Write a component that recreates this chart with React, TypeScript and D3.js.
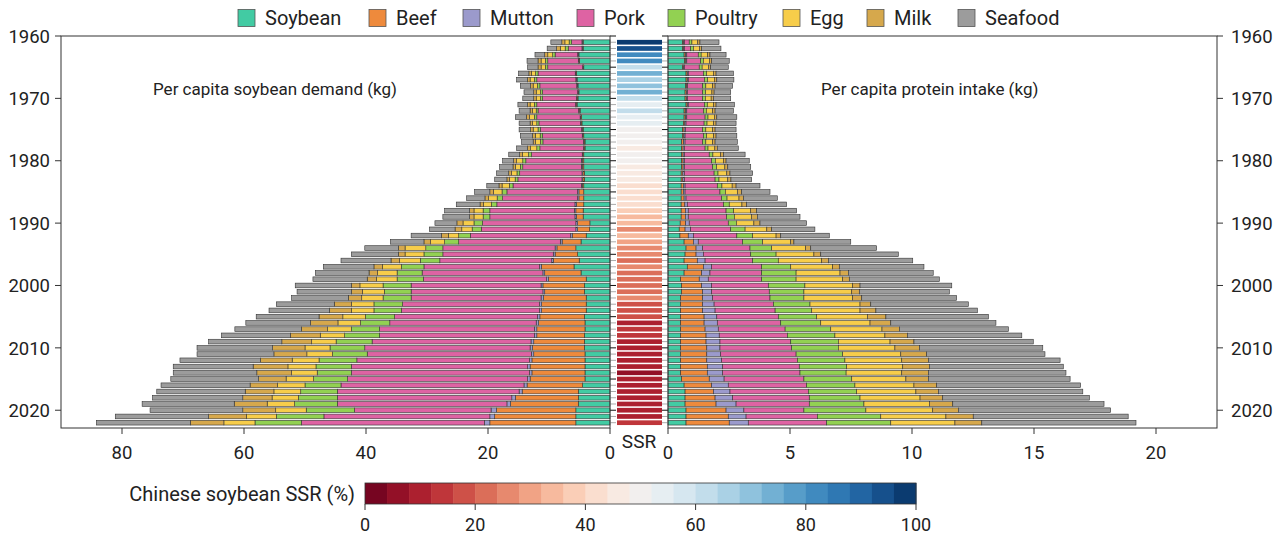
import * as d3 from "d3";

const YEARS = d3.range(1961, 2023);
const CATEGORIES = ["Soybean", "Beef", "Mutton", "Pork", "Poultry", "Egg", "Milk", "Seafood"];
const COLORS = ["#42cba3", "#ee8a3c", "#9b9acc", "#de63a3", "#92d152", "#f7cd4a", "#d6a84c", "#9c9c9c"];

// per capita soybean demand (kg), 1961-2022
const DEMAND_SOYBEAN = [4.4, 4.4, 5.1, 5.0, 4.3, 5.5, 5.4, 5.25, 5.1, 5.25, 5.4, 4.9, 4.65, 4.6, 4.4, 4.3, 4.1, 4.1, 4.3, 4.3, 4.3, 4.2, 4.2, 4.3, 4.3, 4.3, 4.3, 4.4, 4.4, 3.3,
  3.35, 3.9, 4.75, 5.6, 5.3, 5.05, 5.9, 4.75, 3.9, 4.2, 4.2, 3.9, 3.9, 3.9, 4.2, 4.1, 4.1, 4.2, 4.2, 4.2, 4.1, 4.1, 4.1, 4.1, 4.1, 4.5, 5.2, 5.2, 5.2, 5.6, 5.6, 5.6];
const DEMAND_BEEF = [0.1, 0.1, 0.1, 0.1, 0.1, 0.1, 0.1, 0.1, 0.1, 0.15, 0.15, 0.15, 0.15, 0.15, 0.15, 0.15, 0.15, 0.15, 0.15, 0.25, 0.25, 0.25, 0.25, 0.25, 0.8, 0.8, 1.2, 1.2, 1.1, 2.0,
  1.95, 2.3, 3.1, 3.1, 3.7, 4.25, 5.35, 5.95, 6.2, 6.8, 6.5, 7.0, 7.3, 7.3, 7.3, 7.6, 7.9, 7.8, 8.3, 8.5, 8.4, 8.7, 9.0, 8.7, 9.0, 9.1, 9.2, 10.3, 11.1, 13.0, 13.3, 14.1];
const DEMAND_MUTTON = [0.1, 0.1, 0.1, 0.1, 0.1, 0.1, 0.1, 0.1, 0.1, 0.1, 0.1, 0.1, 0.1, 0.1, 0.1, 0.1, 0.1, 0.1, 0.1, 0.15, 0.15, 0.15, 0.15, 0.15, 0.2, 0.2, 0.25, 0.25, 0.25, 0.3,
  0.3, 0.25, 0.3, 0.3, 0.3, 0.25, 0.3, 0.3, 0.3, 0.3, 0.3, 0.4, 0.35, 0.35, 0.4, 0.4, 0.4, 0.4, 0.45, 0.4, 0.4, 0.4, 0.4, 0.4, 0.4, 0.5, 0.5, 0.6, 0.6, 0.9, 0.8, 0.9];
const DEMAND_PORK = [1.7, 2.25, 3.7, 5.0, 5.7, 6.1, 6.4, 6.05, 5.75, 5.55, 6.35, 6.65, 7.1, 6.8, 6.75, 6.5, 6.65, 7.15, 8.3, 9.1, 9.6, 10.2, 10.5, 11.2, 11.6, 12.3, 12.8, 13.85, 13.95, 15.3,
  15.5, 16.45, 16.65, 18.4, 18.1, 18.35, 18.95, 19.8, 20.2, 21.3, 21.6, 21.3, 22.45, 22.65, 23.4, 24.0, 25.4, 25.4, 26.05, 27.1, 26.9, 28.3, 28.9, 29.2, 29.5, 30.0, 29.8, 28.6, 27.8, 22.4, 27.2, 30.0];
const DEMAND_POULTRY = [0.4, 0.5, 0.4, 0.4, 0.4, 0.4, 0.4, 0.4, 0.35, 0.35, 0.4, 0.3, 0.4, 0.35, 0.4, 0.4, 0.4, 0.5, 0.5, 0.5, 0.4, 0.45, 0.45, 0.6, 0.8, 0.9, 0.9, 1.1, 1.1, 1.4,
  1.5, 1.9, 2.3, 2.8, 3.1, 3.2, 3.7, 4.1, 4.3, 4.6, 4.4, 4.6, 4.7, 4.5, 4.8, 4.8, 4.6, 5.7, 5.9, 5.7, 5.7, 6.2, 5.8, 5.6, 5.6, 5.9, 6.0, 6.4, 7.0, 7.9, 7.8, 7.6];
const DEMAND_EGG = [0.7, 0.8, 0.8, 0.7, 0.7, 0.7, 0.7, 0.7, 0.7, 0.7, 0.7, 0.6, 0.8, 0.7, 0.8, 0.8, 0.8, 1.0, 1.0, 1.0, 0.8, 0.9, 0.9, 1.2, 1.4, 1.4, 1.3, 1.5, 1.5, 1.8,
  1.7, 1.7, 2.3, 3.4, 3.1, 3.4, 3.1, 3.2, 3.4, 3.8, 3.6, 3.5, 3.7, 3.7, 3.7, 3.7, 3.9, 4.0, 4.0, 4.1, 4.2, 4.4, 4.6, 4.2, 4.5, 4.5, 4.4, 4.3, 4.5, 5.0, 4.9, 5.1];
const DEMAND_MILK = [0.5, 0.6, 0.5, 0.5, 0.5, 0.4, 0.4, 0.4, 0.4, 0.4, 0.4, 0.4, 0.5, 0.4, 0.4, 0.45, 0.4, 0.5, 0.45, 0.5, 0.4, 0.45, 0.45, 0.5, 0.6, 0.6, 0.55, 0.7, 0.7, 1.0,
  1.1, 1.15, 1.1, 1.1, 1.1, 1.4, 1.4, 1.4, 1.5, 1.4, 1.8, 2.2, 2.8, 3.6, 3.9, 4.5, 4.3, 4.9, 4.9, 5.3, 5.4, 5.2, 5.7, 5.7, 4.5, 4.5, 4.7, 4.8, 5.4, 5.4, 6.2, 5.5];
const DEMAND_SEAFOOD = [1.8, 1.55, 1.6, 1.8, 1.7, 1.7, 1.8, 1.7, 1.6, 1.8, 1.6, 1.8, 1.8, 1.8, 1.9, 2.0, 1.9, 1.8, 1.8, 1.8, 2.2, 2.0, 2.0, 2.0, 2.5, 3.0, 3.9, 4.1, 4.4, 3.6,
  4.2, 4.95, 5.5, 5.5, 7.7, 8.2, 8.3, 8.8, 8.9, 9.2, 8.9, 9.3, 9.5, 9.9, 10.3, 10.6, 10.9, 11.3, 12.0, 12.4, 12.6, 13.2, 13.1, 13.7, 14.4, 14.6, 14.5, 14.8, 15.1, 15.2, 15.3, 15.4];

// per capita protein intake (kg), 1961-2022
const INTAKE_SOYBEAN = [0.6, 0.6, 0.66, 0.68, 0.6, 0.74, 0.74, 0.72, 0.7, 0.7, 0.74, 0.66, 0.66, 0.63, 0.6, 0.59, 0.56, 0.56, 0.56, 0.56, 0.56, 0.54, 0.54, 0.54, 0.54, 0.54, 0.54, 0.54, 0.54, 0.5,
  0.46, 0.49, 0.66, 0.74, 0.7, 0.66, 0.79, 0.66, 0.52, 0.56, 0.56, 0.52, 0.52, 0.52, 0.52, 0.52, 0.52, 0.52, 0.52, 0.52, 0.52, 0.52, 0.52, 0.52, 0.56, 0.66, 0.7, 0.7, 0.7, 0.74, 0.74, 0.74];
const INTAKE_BEEF = [0.04, 0.04, 0.06, 0.05, 0.04, 0.05, 0.05, 0.05, 0.06, 0.06, 0.05, 0.06, 0.06, 0.06, 0.06, 0.06, 0.08, 0.06, 0.06, 0.06, 0.06, 0.07, 0.07, 0.09, 0.09, 0.12, 0.15, 0.17, 0.17, 0.22,
  0.24, 0.34, 0.38, 0.41, 0.45, 0.54, 0.66, 0.72, 0.76, 0.82, 0.86, 0.9, 0.9, 0.9, 0.96, 0.96, 1.0, 1.04, 1.04, 1.07, 1.07, 1.07, 1.09, 1.09, 1.13, 1.13, 1.16, 1.23, 1.27, 1.64, 1.73, 1.77];
const INTAKE_MUTTON = [0.03, 0.03, 0.05, 0.04, 0.03, 0.04, 0.04, 0.03, 0.04, 0.04, 0.04, 0.05, 0.05, 0.05, 0.05, 0.05, 0.06, 0.05, 0.05, 0.05, 0.05, 0.06, 0.06, 0.07, 0.07, 0.08, 0.1, 0.12, 0.12, 0.15,
  0.23, 0.21, 0.2, 0.27, 0.3, 0.32, 0.34, 0.34, 0.37, 0.41, 0.37, 0.41, 0.47, 0.51, 0.52, 0.54, 0.54, 0.54, 0.57, 0.54, 0.57, 0.61, 0.63, 0.63, 0.61, 0.68, 0.68, 0.72, 0.82, 0.73, 0.73, 0.78];
const INTAKE_PORK = [0.2, 0.26, 0.47, 0.57, 0.61, 0.62, 0.66, 0.62, 0.62, 0.62, 0.66, 0.68, 0.75, 0.74, 0.71, 0.75, 0.72, 0.85, 1.02, 1.12, 1.16, 1.22, 1.26, 1.32, 1.43, 1.46, 1.48, 1.55, 1.57, 1.6,
  1.64, 1.78, 1.82, 1.94, 1.94, 1.95, 2.05, 2.12, 2.19, 2.32, 2.36, 2.35, 2.43, 2.46, 2.52, 2.6, 2.74, 2.79, 2.9, 2.94, 3.09, 3.1, 3.14, 3.17, 3.27, 3.21, 3.21, 3.14, 3.0, 2.46, 2.92, 3.21];
const INTAKE_POULTRY = [0.11, 0.11, 0.12, 0.11, 0.12, 0.13, 0.13, 0.13, 0.12, 0.11, 0.12, 0.12, 0.12, 0.12, 0.13, 0.13, 0.13, 0.12, 0.15, 0.15, 0.16, 0.16, 0.16, 0.19, 0.22, 0.22, 0.24, 0.31, 0.32, 0.33,
  0.59, 0.65, 0.82, 0.89, 1.04, 1.05, 1.19, 1.41, 1.41, 1.5, 1.42, 1.39, 1.5, 1.5, 1.57, 1.64, 1.87, 1.95, 1.95, 1.91, 1.91, 1.95, 1.94, 1.89, 1.96, 1.98, 1.98, 2.08, 2.24, 2.54, 2.6, 2.63];
const INTAKE_EGG = [0.24, 0.25, 0.26, 0.25, 0.26, 0.28, 0.28, 0.28, 0.26, 0.24, 0.26, 0.26, 0.26, 0.27, 0.28, 0.29, 0.28, 0.28, 0.32, 0.33, 0.34, 0.36, 0.36, 0.42, 0.49, 0.49, 0.52, 0.69, 0.7, 0.72,
  0.89, 0.96, 1.15, 1.39, 1.55, 1.78, 1.72, 1.8, 1.91, 1.96, 1.96, 2.0, 2.05, 1.98, 2.08, 2.02, 2.1, 2.05, 2.12, 2.32, 2.38, 2.33, 2.3, 2.28, 2.22, 2.42, 2.43, 2.46, 2.68, 2.74, 2.67, 2.63];
const INTAKE_MILK = [0.09, 0.09, 0.1, 0.09, 0.09, 0.11, 0.1, 0.1, 0.09, 0.09, 0.1, 0.1, 0.1, 0.1, 0.1, 0.1, 0.1, 0.1, 0.11, 0.11, 0.12, 0.13, 0.13, 0.16, 0.18, 0.18, 0.19, 0.25, 0.24, 0.25,
  0.2, 0.19, 0.13, 0.21, 0.28, 0.27, 0.27, 0.34, 0.27, 0.3, 0.31, 0.37, 0.44, 0.65, 0.76, 0.85, 0.71, 0.92, 0.98, 1.0, 1.06, 1.09, 1.09, 1.09, 0.92, 0.93, 0.92, 0.93, 0.96, 1.05, 1.12, 1.1];
const INTAKE_SEAFOOD = [0.78, 0.79, 0.66, 0.72, 0.72, 0.71, 0.7, 0.72, 0.68, 0.71, 0.75, 0.75, 0.82, 0.82, 0.86, 0.85, 0.91, 0.86, 0.89, 0.95, 0.94, 0.93, 0.85, 0.98, 1.16, 1.39, 1.64, 1.64, 1.75, 1.91,
  1.77, 1.99, 2.33, 2.7, 3.18, 3.46, 3.47, 3.48, 3.69, 3.76, 3.69, 3.89, 4.0, 4.16, 4.2, 4.31, 4.47, 4.69, 4.89, 5.06, 4.85, 5.4, 5.49, 5.64, 5.81, 5.9, 5.92, 6.01, 6.2, 6.24, 6.35, 6.32];

// Chinese soybean self-sufficiency ratio (%), 1961-2022
const SSR = [98, 92, 80, 82, 62, 72, 66, 68, 72, 60, 54, 60, 55, 52, 50, 48, 51, 47, 49, 48,
  44, 44, 45, 43, 42, 42, 40, 38, 34, 35,
  27, 32, 30, 25, 27, 23, 25, 23, 21, 23,
  21, 25, 19, 19, 17, 10, 12, 14, 10, 10,
  11, 9, 9, 7, 10, 8, 10, 11, 9, 8,
  10, 12];

const YEAR_TICKS = [1960, 1970, 1980, 1990, 2000, 2010, 2020];
const DEMAND_TICKS = [0, 20, 40, 60, 80];
const INTAKE_TICKS = [0, 5, 10, 15, 20];
const SSR_TICKS = [0, 20, 40, 60, 80, 100];

const DEMAND = [DEMAND_SOYBEAN, DEMAND_BEEF, DEMAND_MUTTON, DEMAND_PORK, DEMAND_POULTRY, DEMAND_EGG, DEMAND_MILK, DEMAND_SEAFOOD];
const INTAKE = [INTAKE_SOYBEAN, INTAKE_BEEF, INTAKE_MUTTON, INTAKE_PORK, INTAKE_POULTRY, INTAKE_EGG, INTAKE_MILK, INTAKE_SEAFOOD];

const toRows = (series: number[][]) =>
  YEARS.map((year, i) => {
    const row: Record<string, number> = { year };
    CATEGORIES.forEach((c, k) => (row[c] = series[k][i]));
    return row;
  });

const FONT = "Roboto, 'Open Sans', Arial, sans-serif";
const INK = "#222";

export default function App() {
  const W = 1280;
  const H = 545;
  const top = 36;
  const bottom = 428;
  const leftX0 = 61, leftX1 = 610;
  const rightX0 = 668, rightX1 = 1217;

  const y = d3.scaleLinear().domain([1960, 2022.85]).range([top, bottom]);
  const xL = d3.scaleLinear().domain([0, 90]).range([leftX1, leftX0]);
  const xR = d3.scaleLinear().domain([0, 22.5]).range([rightX0, rightX1]);
  const barH = 4.7;

  const stack = d3.stack<Record<string, number>>().keys(CATEGORIES);
  const demandStack = stack(toRows(DEMAND));
  const intakeStack = stack(toRows(INTAKE));

  const nBins = 25;
  const binColor = (i: number) => d3.interpolateRdBu((i + 0.5) / nBins);
  const ssrColor = (v: number) => binColor(Math.min(nBins - 1, Math.floor(v / (100 / nBins))));

  const cb = d3.scaleLinear().domain([0, 100]).range([365, 916]);
  const cbTop = 483, cbBot = 504;

  const legendX = [238, 369, 463, 577, 668, 783, 867, 958];
  const minorYears = d3.range(1960, 2023);

  return (
    <svg width={W} height={H} style={{ position: "absolute", left: 0, top: 0, background: "#fff" }} fontFamily={FONT}>
      {/* legend */}
      {CATEGORIES.map((c, i) => (
        <g key={c} transform={`translate(${legendX[i]},18)`}>
          <rect x={0} y={-8.5} width={17} height={17} fill={COLORS[i]} stroke="#555" strokeWidth={0.8} />
          <text x={27} y={0} dy="0.36em" fontSize={20} fill={INK}>{c}</text>
        </g>
      ))}

      {/* left stacked bars */}
      {demandStack.map((s, k) => (
        <g key={s.key} fill={COLORS[k]} stroke="#333" strokeWidth={0.6}>
          {s.map((d, i) => (
            <rect key={i} x={xL(d[1])} y={y(YEARS[i]) - barH / 2} width={Math.max(0, xL(d[0]) - xL(d[1]))} height={barH} />
          ))}
        </g>
      ))}

      {/* right stacked bars */}
      {intakeStack.map((s, k) => (
        <g key={s.key} fill={COLORS[k]} stroke="#333" strokeWidth={0.6}>
          {s.map((d, i) => (
            <rect key={i} x={xR(d[0])} y={y(YEARS[i]) - barH / 2} width={Math.max(0, xR(d[1]) - xR(d[0]))} height={barH} />
          ))}
        </g>
      ))}

      {/* SSR column */}
      {SSR.map((v, i) => (
        <rect key={i} x={617} y={y(YEARS[i]) - barH / 2} width={45} height={barH} fill={ssrColor(v)} />
      ))}

      {/* inner ticks beside SSR column */}
      {minorYears.map((yr) => {
        const major = yr % 5 === 0;
        const c = major ? "#111" : "#aaa";
        return (
          <g key={yr} stroke={c} strokeWidth={1}>
            <line x1={leftX1} x2={leftX1 + 6} y1={y(yr)} y2={y(yr)} />
            <line x1={rightX0} x2={rightX0 - 6} y1={y(yr)} y2={y(yr)} />
          </g>
        );
      })}

      {/* frames */}
      <rect x={leftX0} y={top} width={leftX1 - leftX0} height={bottom - top} fill="none" stroke="#333" strokeWidth={1} />
      <rect x={rightX0} y={top} width={rightX1 - rightX0} height={bottom - top} fill="none" stroke="#333" strokeWidth={1} />

      {/* year axes */}
      {YEAR_TICKS.map((yr) => (
        <g key={yr}>
          <line x1={leftX0 - 6} x2={leftX0} y1={y(yr)} y2={y(yr)} stroke="#333" />
          <text x={leftX0 - 11} y={y(yr)} dy="0.36em" textAnchor="end" fontSize={18.5} fill={INK}>{yr}</text>
          <line x1={rightX1} x2={rightX1 + 6} y1={y(yr)} y2={y(yr)} stroke="#333" />
          <text x={rightX1 + 14} y={y(yr)} dy="0.36em" textAnchor="start" fontSize={18.5} fill={INK}>{yr}</text>
        </g>
      ))}

      {/* value axes */}
      {DEMAND_TICKS.map((t) => (
        <g key={"d" + t}>
          <line x1={xL(t)} x2={xL(t)} y1={bottom} y2={bottom + 6} stroke="#333" />
          <text x={xL(t)} y={452} dy="0.36em" textAnchor="middle" fontSize={18.5} fill={INK}>{t}</text>
        </g>
      ))}
      {INTAKE_TICKS.map((t) => (
        <g key={"i" + t}>
          <line x1={xR(t)} x2={xR(t)} y1={bottom} y2={bottom + 6} stroke="#333" />
          <text x={xR(t)} y={452} dy="0.36em" textAnchor="middle" fontSize={18.5} fill={INK}>{t}</text>
        </g>
      ))}
      <text x={639} y={441} dy="0.36em" textAnchor="middle" fontSize={19} fill={INK}>SSR</text>

      {/* panel titles */}
      <text x={153} y={89} dy="0.36em" fontSize={17} fill={INK}>Per capita soybean demand (kg)</text>
      <text x={821} y={89} dy="0.36em" fontSize={17} fill={INK}>Per capita protein intake (kg)</text>

      {/* colour bar */}
      {d3.range(nBins).map((i) => (
        <rect key={i} x={cb(i * 4)} y={cbTop} width={cb(4) - cb(0) + 0.5} height={cbBot - cbTop} fill={binColor(i)} />
      ))}
      <rect x={cb(0)} y={cbTop} width={cb(100) - cb(0)} height={cbBot - cbTop} fill="none" stroke="#333" strokeWidth={0.8} />
      {SSR_TICKS.map((t) => (
        <g key={"c" + t}>
          <line x1={cb(t)} x2={cb(t)} y1={cbBot} y2={cbBot + 6} stroke="#333" />
          <text x={cb(t)} y={525} dy="0.36em" textAnchor="middle" fontSize={18} fill={INK}>{t}</text>
        </g>
      ))}
      <text x={355} y={494} dy="0.36em" textAnchor="end" fontSize={20} fill={INK}>Chinese soybean SSR (%)</text>
    </svg>
  );
}
